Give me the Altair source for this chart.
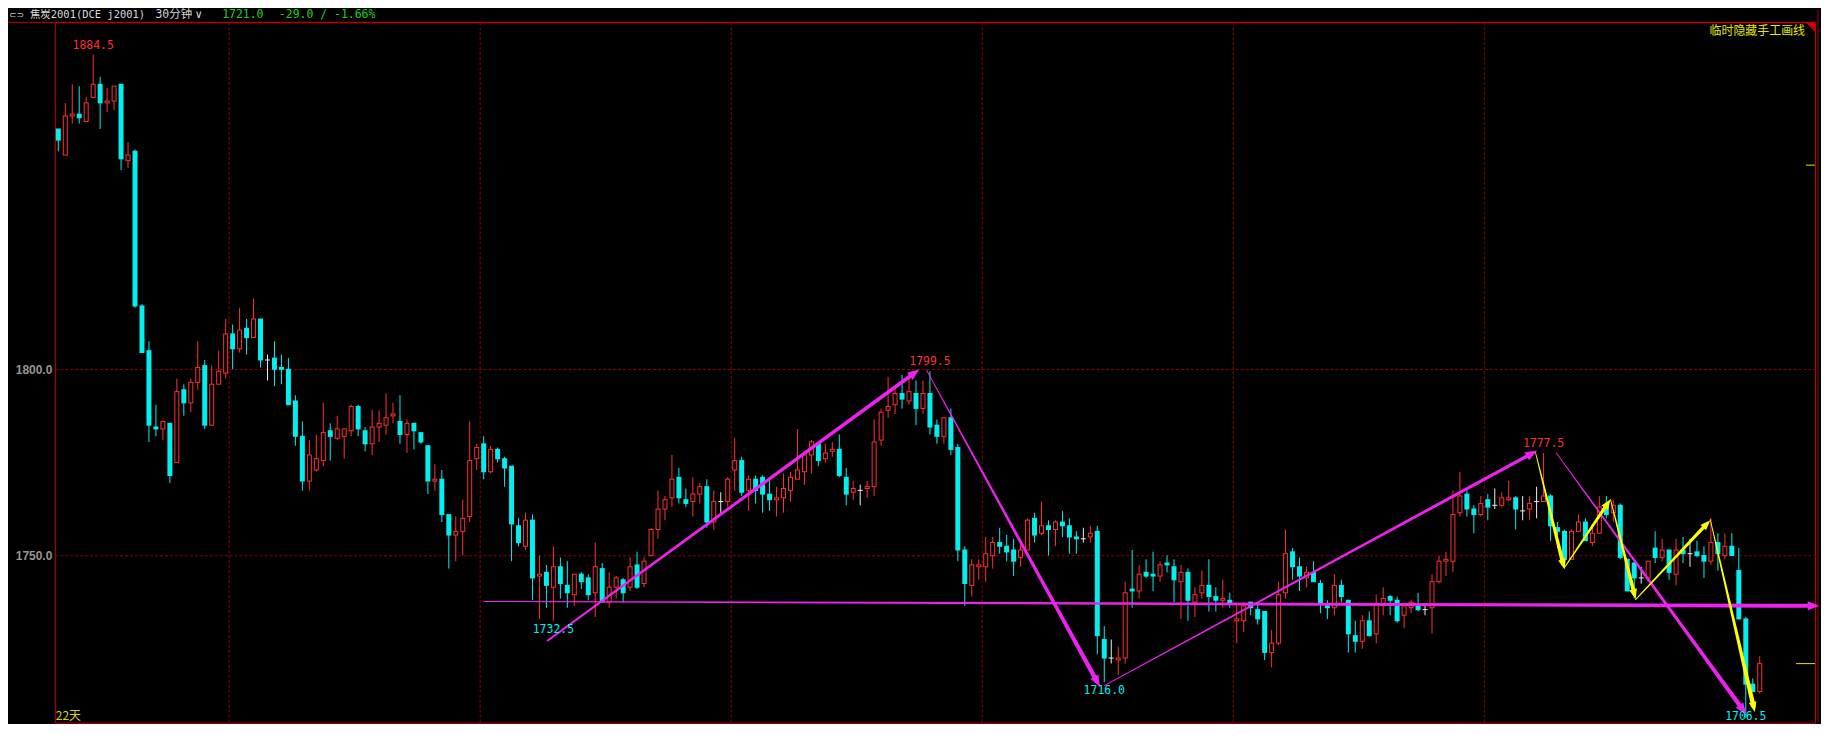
import math
import altair as alt
import pandas as pd

# ---------------- data (30-minute bars) ----------------
opens = [
    1864.5, 1857.5, 1868.0, 1868.5, 1866.5, 1873.0, 1876.5, 1871.5, 1872.0, 1876.5,
    1856.0, 1858.5, 1817.0, 1805.0, 1784.5, 1784.0, 1785.5, 1775.0, 1794.5, 1791.0,
    1796.5, 1801.0, 1785.0, 1796.0, 1799.0, 1809.5, 1805.5, 1811.0, 1808.5, 1813.5,
    1802.5, 1803.0, 1800.5, 1800.0, 1791.5, 1782.0, 1770.0, 1773.0, 1775.5, 1783.5,
    1781.5, 1782.0, 1783.5, 1790.0, 1783.5, 1780.0, 1784.5, 1785.0, 1787.5, 1786.0,
    1782.5, 1785.5, 1783.0, 1779.5, 1770.0, 1770.5, 1761.0, 1755.5, 1756.5, 1760.5,
    1776.0, 1780.0, 1772.5, 1778.5, 1776.0, 1774.0, 1758.0, 1752.5, 1759.5, 1744.5,
    1745.5, 1741.5, 1747.0, 1742.0, 1739.5, 1745.0, 1744.0, 1740.0, 1746.5, 1737.5,
    1741.5, 1743.5, 1741.5, 1747.5, 1742.5, 1750.0, 1757.0, 1762.5, 1765.5, 1771.0,
    1765.0, 1764.5, 1766.5, 1768.5, 1759.0, 1764.5, 1764.5, 1773.0, 1775.5, 1767.5,
    1770.5, 1771.0, 1766.5, 1765.0, 1765.5, 1767.5, 1770.5, 1772.5, 1777.0, 1780.0,
    1776.0, 1778.0, 1778.5, 1771.0, 1767.0, 1767.5, 1768.0, 1768.5, 1781.0, 1789.0,
    1790.5, 1793.5, 1791.5, 1793.5, 1789.5, 1793.5, 1785.0, 1782.0, 1787.0, 1779.0,
    1751.5, 1742.0, 1747.0, 1747.0, 1750.0, 1753.5, 1752.5, 1751.5, 1749.5, 1751.5,
    1760.0, 1756.0, 1758.0, 1757.0, 1759.0, 1758.0, 1755.0, 1754.5, 1755.0, 1756.5,
    1727.5, 1722.5, 1722.0, 1722.5, 1741.0, 1740.5, 1745.5, 1745.0, 1744.5, 1748.0,
    1747.0, 1743.0, 1745.5, 1737.5, 1740.0, 1742.0, 1739.0, 1738.0, 1738.0, 1732.5,
    1732.5, 1737.5, 1735.5, 1735.0, 1724.0, 1726.5, 1740.0, 1751.0, 1747.0, 1744.0,
    1745.5, 1742.5, 1736.5, 1736.0, 1742.0, 1738.0, 1728.5, 1727.0, 1732.5, 1729.0,
    1737.0, 1739.0, 1738.0, 1734.0, 1736.0, 1736.5, 1735.5, 1736.0, 1743.0, 1748.5,
    1748.5, 1761.5, 1766.5, 1762.5, 1761.0, 1765.0, 1763.5, 1763.5, 1765.0, 1765.5,
    1762.0, 1762.5, 1764.5, 1764.5, 1766.0, 1757.5, 1756.5, 1749.0, 1756.5, 1759.0,
    1753.5, 1756.0, 1763.5, 1761.5, 1763.5, 1749.0, 1748.0, 1744.0, 1744.0, 1752.0,
    1749.5, 1751.5, 1745.0, 1751.5, 1750.5, 1751.0, 1750.0, 1748.5, 1753.5, 1750.0,
    1752.5, 1746.0, 1733.0, 1715.5, 1713.5,
]
highs = [
    1864.5, 1871.5, 1876.5, 1876.0, 1873.0, 1884.5, 1878.5, 1875.5, 1876.0, 1876.5,
    1861.0, 1859.0, 1817.5, 1807.5, 1790.5, 1786.0, 1785.5, 1797.5, 1796.0, 1797.5,
    1807.5, 1802.5, 1801.0, 1805.0, 1813.5, 1812.0, 1816.5, 1813.5, 1819.0, 1813.5,
    1804.0, 1807.5, 1804.0, 1803.0, 1793.0, 1786.0, 1781.0, 1782.5, 1791.0, 1785.5,
    1787.5, 1784.0, 1790.5, 1790.5, 1784.5, 1789.0, 1789.0, 1793.5, 1791.0, 1793.0,
    1786.5, 1785.5, 1783.0, 1779.5, 1774.5, 1773.0, 1761.0, 1760.5, 1765.0, 1786.0,
    1780.0, 1782.0, 1779.5, 1779.0, 1776.5, 1774.0, 1760.0, 1761.5, 1761.0, 1750.0,
    1747.5, 1752.5, 1749.5, 1748.5, 1745.0, 1745.5, 1745.0, 1753.5, 1748.0, 1745.5,
    1744.5, 1744.0, 1749.5, 1751.0, 1749.5, 1757.5, 1767.5, 1766.0, 1777.0, 1773.5,
    1768.0, 1771.0, 1769.5, 1770.5, 1767.5, 1767.0, 1771.0, 1781.5, 1776.5, 1771.5,
    1771.5, 1771.5, 1770.5, 1768.5, 1772.0, 1772.5, 1784.0, 1778.0, 1781.0, 1780.5,
    1780.0, 1780.5, 1782.5, 1773.5, 1770.0, 1769.0, 1770.0, 1786.5, 1789.5, 1798.0,
    1795.0, 1798.5, 1798.0, 1797.0, 1797.0, 1799.5, 1786.5, 1787.0, 1789.5, 1780.0,
    1752.5, 1749.0, 1749.0, 1755.0, 1755.0, 1757.5, 1755.5, 1754.5, 1754.5, 1760.0,
    1761.5, 1764.5, 1759.5, 1759.5, 1762.0, 1760.0, 1756.5, 1757.5, 1758.0, 1758.0,
    1731.0, 1727.5, 1725.5, 1743.0, 1751.5, 1747.5, 1749.0, 1751.0, 1748.5, 1750.0,
    1749.0, 1747.5, 1746.5, 1741.5, 1746.0, 1749.0, 1741.5, 1743.5, 1740.0, 1737.5,
    1737.5, 1737.5, 1737.5, 1735.0, 1730.0, 1743.0, 1757.0, 1752.0, 1749.5, 1747.0,
    1748.5, 1743.5, 1738.0, 1745.0, 1743.5, 1738.0, 1732.5, 1734.0, 1735.0, 1739.5,
    1741.5, 1739.5, 1739.0, 1736.5, 1738.0, 1740.0, 1736.5, 1745.0, 1750.0, 1751.0,
    1767.5, 1772.5, 1767.5, 1763.5, 1766.0, 1766.5, 1768.0, 1767.0, 1770.0, 1766.0,
    1766.0, 1766.0, 1768.5, 1777.5, 1766.5, 1759.0, 1757.0, 1757.0, 1761.0, 1760.0,
    1758.5, 1766.0, 1766.0, 1765.0, 1764.0, 1749.0, 1748.5, 1747.0, 1748.5, 1756.5,
    1754.5, 1751.5, 1754.5, 1755.0, 1754.5, 1754.0, 1752.5, 1760.0, 1756.0, 1756.0,
    1756.0, 1752.0, 1733.5, 1717.0, 1723.0,
]
lows = [
    1858.5, 1857.5, 1866.0, 1866.0, 1866.5, 1873.0, 1864.5, 1869.0, 1869.5, 1853.5,
    1854.0, 1816.5, 1804.5, 1780.5, 1782.0, 1781.0, 1769.5, 1775.0, 1787.5, 1788.5,
    1794.5, 1784.0, 1785.0, 1796.0, 1797.5, 1800.0, 1804.5, 1804.0, 1808.5, 1800.5,
    1797.0, 1795.5, 1796.0, 1790.5, 1779.5, 1767.5, 1767.5, 1772.5, 1774.0, 1775.5,
    1781.0, 1776.0, 1782.0, 1782.0, 1778.0, 1777.0, 1780.5, 1782.5, 1785.5, 1780.0,
    1777.5, 1778.5, 1780.0, 1766.5, 1767.5, 1759.0, 1746.5, 1748.5, 1750.0, 1759.0,
    1773.0, 1770.5, 1772.0, 1775.0, 1768.5, 1748.5, 1752.5, 1751.5, 1738.0, 1733.0,
    1736.0, 1732.5, 1738.5, 1736.0, 1736.5, 1741.0, 1738.0, 1733.5, 1737.5, 1736.0,
    1738.5, 1737.5, 1740.5, 1741.0, 1741.5, 1750.0, 1754.5, 1759.5, 1763.0, 1764.0,
    1763.0, 1760.5, 1764.0, 1757.5, 1757.0, 1761.5, 1763.0, 1767.5, 1766.0, 1762.0,
    1764.0, 1761.5, 1762.0, 1760.5, 1761.5, 1764.5, 1770.5, 1769.0, 1772.0, 1774.0,
    1775.0, 1776.5, 1771.0, 1763.5, 1765.0, 1763.5, 1765.5, 1766.0, 1779.5, 1787.0,
    1788.0, 1789.5, 1790.5, 1785.0, 1788.0, 1782.5, 1780.0, 1780.0, 1777.0, 1748.5,
    1736.5, 1739.0, 1743.5, 1743.0, 1746.5, 1750.5, 1748.5, 1744.5, 1747.0, 1751.5,
    1753.5, 1755.5, 1750.0, 1752.5, 1755.0, 1750.5, 1750.5, 1753.5, 1753.5, 1723.5,
    1716.0, 1721.0, 1718.0, 1721.0, 1736.0, 1738.5, 1744.0, 1740.5, 1743.0, 1745.5,
    1737.5, 1733.0, 1732.5, 1733.5, 1738.5, 1735.0, 1735.0, 1736.0, 1736.0, 1726.5,
    1729.5, 1734.0, 1731.5, 1722.0, 1720.0, 1726.0, 1738.5, 1743.5, 1740.5, 1741.5,
    1743.0, 1734.5, 1733.0, 1734.0, 1737.5, 1724.0, 1724.0, 1725.0, 1728.5, 1726.5,
    1734.0, 1734.0, 1732.0, 1730.5, 1734.5, 1735.0, 1734.0, 1729.0, 1742.5, 1744.5,
    1745.5, 1760.5, 1760.5, 1756.0, 1760.5, 1759.5, 1762.5, 1763.0, 1764.5, 1757.0,
    1759.5, 1759.5, 1760.0, 1764.5, 1754.0, 1752.0, 1746.5, 1749.0, 1756.5, 1754.0,
    1752.5, 1756.0, 1760.0, 1759.0, 1749.0, 1740.5, 1738.5, 1742.5, 1744.0, 1748.0,
    1748.5, 1743.5, 1742.0, 1748.0, 1747.0, 1749.5, 1744.0, 1747.5, 1746.0, 1749.0,
    1750.0, 1733.0, 1706.5, 1713.5, 1713.0,
]
closes = [
    1861.5, 1868.0, 1868.5, 1867.5, 1871.5, 1876.5, 1871.5, 1872.0, 1876.0, 1856.5,
    1857.5, 1817.0, 1804.5, 1785.0, 1784.0, 1786.0, 1771.5, 1794.0, 1791.0, 1796.5,
    1800.5, 1785.0, 1796.0, 1799.5, 1809.5, 1805.5, 1810.5, 1808.5, 1813.5, 1802.5,
    1802.5, 1800.0, 1800.0, 1790.5, 1782.0, 1770.0, 1777.0, 1776.0, 1783.0, 1782.0,
    1784.0, 1784.0, 1790.0, 1784.0, 1780.0, 1784.5, 1785.5, 1787.0, 1788.0, 1782.5,
    1785.5, 1783.5, 1780.5, 1770.0, 1770.5, 1761.0, 1755.5, 1756.5, 1760.0, 1775.5,
    1779.0, 1772.5, 1778.5, 1776.0, 1773.5, 1758.5, 1753.5, 1759.5, 1744.0, 1745.0,
    1742.0, 1747.0, 1742.5, 1740.0, 1745.0, 1743.0, 1739.5, 1747.0, 1737.5, 1741.5,
    1744.0, 1740.0, 1747.0, 1741.5, 1748.5, 1757.0, 1762.5, 1765.0, 1770.5, 1765.5,
    1764.0, 1766.5, 1768.5, 1759.0, 1764.5, 1764.5, 1770.5, 1775.5, 1767.0, 1770.5,
    1767.5, 1766.5, 1765.0, 1765.5, 1768.0, 1771.0, 1773.0, 1777.0, 1780.5, 1775.5,
    1777.5, 1778.5, 1771.5, 1766.5, 1768.0, 1767.5, 1768.5, 1780.5, 1788.5, 1790.0,
    1793.5, 1792.0, 1794.0, 1789.5, 1793.5, 1784.5, 1782.0, 1787.0, 1778.5, 1751.5,
    1742.5, 1747.5, 1747.5, 1750.5, 1753.5, 1752.5, 1751.0, 1748.5, 1751.5, 1759.5,
    1755.5, 1758.0, 1757.0, 1759.0, 1758.0, 1755.0, 1754.5, 1754.5, 1756.0, 1728.5,
    1722.5, 1722.5, 1722.5, 1740.0, 1740.5, 1745.0, 1744.5, 1744.5, 1747.5, 1747.5,
    1743.5, 1745.5, 1738.0, 1739.5, 1742.0, 1739.0, 1738.0, 1738.5, 1737.0, 1733.0,
    1736.5, 1736.0, 1733.0, 1724.0, 1726.5, 1739.5, 1750.5, 1747.0, 1744.5, 1745.5,
    1743.0, 1737.0, 1736.0, 1742.0, 1739.0, 1729.0, 1727.0, 1732.5, 1728.5, 1737.0,
    1738.5, 1738.0, 1732.5, 1736.5, 1737.5, 1735.5, 1735.5, 1743.0, 1748.5, 1749.0,
    1761.0, 1766.0, 1762.5, 1761.0, 1764.0, 1763.0, 1763.5, 1765.5, 1765.5, 1762.5,
    1762.0, 1764.0, 1764.5, 1766.0, 1758.0, 1756.5, 1749.0, 1756.5, 1759.0, 1754.0,
    1756.0, 1763.0, 1761.0, 1763.5, 1749.5, 1740.5, 1744.0, 1744.0, 1748.5, 1749.5,
    1751.5, 1745.5, 1751.5, 1750.5, 1750.5, 1750.0, 1748.5, 1753.5, 1750.5, 1752.5,
    1750.0, 1733.0, 1715.5, 1713.5, 1721.0,
]

# marked extremes
ext_idx = [5, 125, 213, 71, 150, 242]
ext_val = [1884.5, 1799.5, 1777.5, 1732.5, 1716.0, 1706.5]
ext_side = ["high", "high", "high", "low", "low", "low"]

# day separators (between bars) and price grid
day_breaks = [24.5, 60.5, 96.5, 132.5, 168.5, 204.5]
price_grid = [1750, 1800]

# hand-drawn lines (bar index, price)
mag_i0 = [70.2, 124.5, 150.0, 61.0, 214.8]
mag_p0 = [1727.2, 1799.8, 1715.1, 1737.7, 1777.6]
mag_i1 = [123.5, 149.4, 212.1, 252.6, 242.1]
mag_p1 = [1800.0, 1714.7, 1778.2, 1736.5, 1707.3]
yel_i0 = [211.8, 216.0, 222.6, 226.2, 236.9]
yel_p0 = [1778.0, 1746.8, 1765.1, 1738.2, 1759.7]
yel_i1 = [216.0, 222.6, 226.2, 236.9, 243.3]
yel_p1 = [1746.3, 1765.1, 1738.3, 1759.5, 1708.0]

# price markers at the right edge
marker_prices = [1854.8, 1721.0]

header_texts = ["焦炭2001(DCE j2001)", "30分钟", "∨", "1721.0", "-29.0 / -1.66%"]

# ---------------- styling ----------------
RED = "#FF3030"
CYAN = "#00F0F0"
WHITE = "#EEEEEE"
GRID = "#8E0000"
BORDER = "#C80000"
MAGENTA = "#EE22EE"
YELLOW = "#FFFF00"
GREEN = "#1ED21E"
NUM_FONT = "DejaVu Sans Mono"
CJK_FONT = "DejaVu Sans Mono, Noto Sans CJK SC"

W, H = 1767, 703
PX_I = 7.0
PX_P = 3.74
Y_TOP = 1893.13
X_DOM = [-0.5, -0.5 + W / PX_I]
Y_DOM = [Y_TOP - H / PX_P, Y_TOP]
OUT = 2.5 / PX_I      # outer half width of a body (5 px)
INN = 1.5 / PX_I      # inner half width of a hollow body
WK = 0.5 / PX_I       # half width of a wick (1 px)
HP = 0.5 / PX_P       # half pixel in price units

xs = alt.Scale(domain=X_DOM, nice=False, zero=False)
ys = alt.Scale(domain=Y_DOM, nice=False, zero=False)
YAX = alt.Axis(values=price_grid, format=".1f", grid=True, gridColor=GRID,
               gridDash=[3, 2], gridWidth=1, domain=False, ticks=False,
               labelPadding=3, labelColor="#969696", labelFont="Liberation Sans",
               labelFontSize=12, labelFontWeight="bold", title=None)

n = len(opens)
kinds = ["up" if c > o else ("down" if c < o else "doji") for o, c in zip(opens, closes)]
df = pd.DataFrame({"i": list(range(n)), "o": opens, "h": highs, "l": lows,
                   "c": closes, "kind": kinds})
df["lo"] = df[["o", "c"]].min(axis=1)
df["hi"] = df[["o", "c"]].max(axis=1)

kind_dom = ["up", "down", "doji"]
line_col = alt.Scale(domain=kind_dom, range=[RED, CYAN, WHITE])

base = alt.Chart(df)


def rect_layer(chart, x1, x2, y1, y2, color_enc):
    return chart.transform_calculate(rx1=x1, rx2=x2, ry1=y1, ry2=y2).mark_rect(strokeWidth=0).encode(
        x=alt.X("rx1:Q", scale=xs, axis=None),
        x2="rx2:Q",
        y=alt.Y("ry1:Q", scale=ys, axis=YAX),
        y2="ry2:Q",
        fill=color_enc,
    )


kind_fill = alt.Fill("kind:N", scale=line_col, legend=None)

grid_v = alt.Chart(pd.DataFrame({"x": day_breaks})).mark_rule(
    color=GRID, strokeDash=[3, 2], strokeWidth=1
).encode(x=alt.X("x:Q", scale=xs, axis=None))

wicks = rect_layer(base, f"datum.i - {WK}", f"datum.i + {WK}",
                   "datum.l", "datum.h", kind_fill)

outer = rect_layer(base, f"datum.i - {OUT}", f"datum.i + {OUT}",
                   f"datum.lo - {HP}", f"datum.hi + {HP}", kind_fill)

inner = rect_layer(
    base.transform_filter(f"datum.kind == 'up' && (datum.hi - datum.lo) > {2 * HP}"),
    f"datum.i - {INN}", f"datum.i + {INN}",
    f"datum.lo + {HP}", f"datum.hi - {HP}", alt.value("#000000"))


# ---- hand-drawn tapered lines with arrow heads ----
def build_lines(i0s, p0s, i1s, p1s, w0s, w1s, color, back, head_size, tag):
    rows, heads = [], []
    for k, (a0, b0, a1, b1, w0, w1) in enumerate(zip(i0s, p0s, i1s, p1s, w0s, w1s)):
        dx = (a1 - a0) * PX_I
        dy = (b1 - b0) * PX_P
        d = math.hypot(dx, dy)
        ex = a1 - dx / d * back / PX_I
        ey = b1 - dy / d * back / PX_P
        rows.append({"line": f"{tag}{k}", "seq": 0, "i": a0, "p": b0, "w": w0, "col": color})
        rows.append({"line": f"{tag}{k}", "seq": 1, "i": ex, "p": ey, "w": w1, "col": color})
        ang = math.degrees(math.atan2(dx, dy)) % 360
        heads.append({"i": a1, "p": b1, "ang": ang, "sz": head_size, "col": color})
    return rows, heads


mag_rows, mag_heads = build_lines(mag_i0, mag_p0, mag_i1, mag_p1,
                                  [2.0, 0.8, 1.0, 1.0, 0.8], [4.0, 4.5, 3.5, 4.0, 4.5],
                                  MAGENTA, 8, 576, "m")
yel_rows, yel_heads = build_lines(yel_i0, yel_p0, yel_i1, yel_p1,
                                  [0.8, 1.0, 0.8, 1.0, 0.8], [4.0, 3.5, 4.0, 3.5, 4.5],
                                  YELLOW, 6, 420, "y")
line_df = pd.DataFrame(mag_rows + yel_rows)
head_df = pd.DataFrame(mag_heads + yel_heads)

trails = alt.Chart(line_df).mark_trail().encode(
    x=alt.X("i:Q", scale=xs, axis=None),
    y=alt.Y("p:Q", scale=ys, axis=YAX),
    size=alt.Size("w:Q", scale=None, legend=None),
    color=alt.Color("col:N", scale=None, legend=None),
    detail="line:N",
    order=alt.Order("seq:Q"),
)

heads = alt.Chart(head_df).mark_point(
    shape="M0,0 L0.38,1 L-0.38,1 Z", filled=True, opacity=1, strokeWidth=0
).encode(
    x=alt.X("i:Q", scale=xs, axis=None),
    y=alt.Y("p:Q", scale=ys, axis=YAX),
    angle=alt.Angle("ang:Q", scale=None),
    size=alt.Size("sz:Q", scale=None, legend=None),
    color=alt.Color("col:N", scale=None, legend=None),
)

# ---- extreme labels ----
ext_df = pd.DataFrame({"i": ext_idx, "p": ext_val, "side": ext_side,
                       "txt": [f"{v:.1f}" for v in ext_val]})
hi_lab = alt.Chart(ext_df).transform_filter("datum.side == 'high'").mark_text(
    color=RED, font=NUM_FONT, fontSize=11.5, dy=-9
).encode(x=alt.X("i:Q", scale=xs, axis=None), y=alt.Y("p:Q", scale=ys, axis=YAX), text="txt:N")
lo_lab = alt.Chart(ext_df).transform_filter("datum.side == 'low' && datum.p > 1710").mark_text(
    color=CYAN, font=NUM_FONT, fontSize=11.5, dy=9
).encode(x=alt.X("i:Q", scale=xs, axis=None), y=alt.Y("p:Q", scale=ys, axis=YAX), text="txt:N")
lo_lab_edge = alt.Chart(ext_df).transform_filter("datum.side == 'low' && datum.p <= 1710").mark_text(
    color=CYAN, font=NUM_FONT, fontSize=11.5, baseline="bottom"
).encode(x=alt.X("i:Q", scale=xs, axis=None), y=alt.value(H - 1), text="txt:N")

# ---- right-edge price markers ----
mk_df = pd.DataFrame({"p": marker_prices, "len": [9, 19]})
markers = alt.Chart(mk_df).transform_calculate(x0=f"{W} - datum.len").mark_rule(
    color="#E6E600", strokeWidth=1
).encode(x=alt.X("x0:Q", scale=None), x2=alt.value(W),
         y=alt.Y("p:Q", scale=ys, axis=YAX))

# ---- frame and header decorations ----
one = pd.DataFrame({"a": [0]})
top_line = alt.Chart(one).mark_rule(color=BORDER, strokeWidth=1).encode(
    x=alt.value(-47), x2=alt.value(W), y=alt.value(0))
right_line = alt.Chart(one).mark_rule(color="#A00000", strokeWidth=1).encode(
    x=alt.value(W + 3), y=alt.value(-13), y2=alt.value(H))
corner = alt.Chart(one).mark_point(
    shape="M-1,0 L0,0 L0,1 Z", filled=True, color=BORDER, opacity=1, size=361, strokeWidth=0
).encode(x=alt.value(W), y=alt.value(0))

hdr_df = pd.DataFrame({
    "t": header_texts,
    "x": [-25, 101, 141, 168, 225],
    "col": ["#D8D8D8", "#D8D8D8", "#D8D8D8", GREEN, GREEN],
    "fs": [10.5, 11.5, 11.5, 11.5, 11.5],
})
header = alt.Chart(hdr_df).mark_text(
    align="left", baseline="middle", font=CJK_FONT
).encode(x=alt.X("x:Q", scale=None), y=alt.value(-7), text="t:N",
         size=alt.Size("fs:Q", scale=None, legend=None),
         color=alt.Color("col:N", scale=None, legend=None))
link_icon = alt.Chart(one).mark_text(
    text="⊂⊃", align="left", font="DejaVu Sans", fontSize=9, color="#C8C8C8"
).encode(x=alt.value(-46), y=alt.value(-7))
hide_txt = alt.Chart(one).mark_text(
    text="临时隐藏手工画线", align="right", font="Noto Sans CJK SC", fontSize=12, color="#E6E600"
).encode(x=alt.value(W - 10), y=alt.value(9))
days_txt = alt.Chart(one).mark_text(
    text="22天", align="left", baseline="bottom", font="Noto Sans CJK SC", fontSize=12, color="#D8D800"
).encode(x=alt.value(1), y=alt.value(H))

chart = alt.layer(
    grid_v, wicks, outer, inner, trails, heads, hi_lab, lo_lab, lo_lab_edge,
    markers, top_line, right_line, corner, header, link_icon, hide_txt, days_txt,
).properties(
    width=W, height=H,
    padding={"left": 47, "top": 13, "right": 6, "bottom": 0},
    autosize=alt.AutoSizeParams(type="none"),
    background="#000000",
).configure_view(stroke=BORDER, strokeWidth=1)

chart.save("out.html", embed_options={"renderer": "svg", "actions": False})
